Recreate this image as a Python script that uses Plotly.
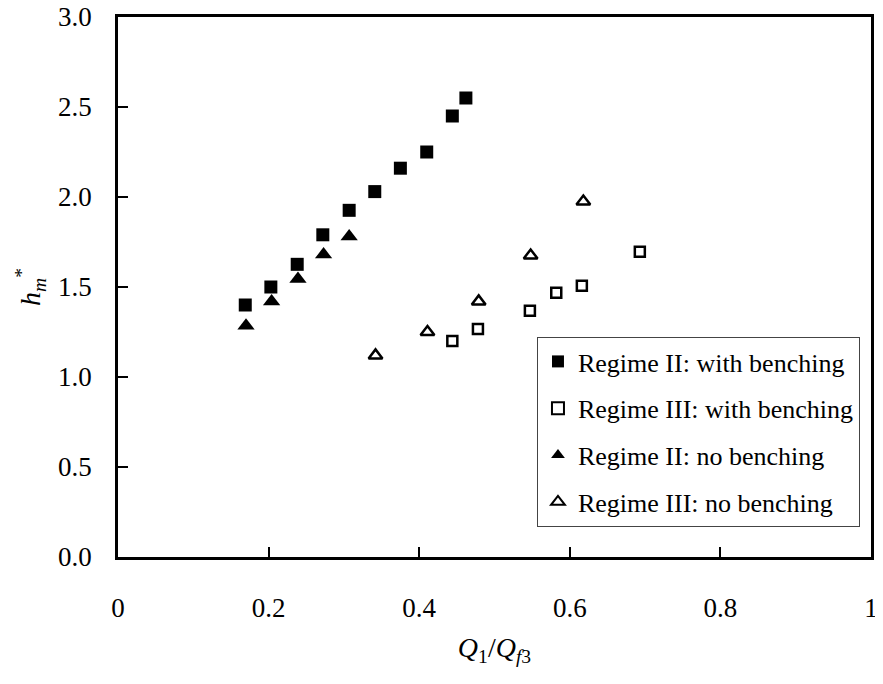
import plotly.graph_objects as go

# Data
x_ii_with = [0.169, 0.203, 0.238, 0.272, 0.307, 0.341, 0.375, 0.410, 0.444, 0.462]
y_ii_with = [1.40, 1.50, 1.626, 1.79, 1.926, 2.03, 2.16, 2.25, 2.45, 2.55]

x_iii_with = [0.444, 0.478, 0.547, 0.582, 0.616, 0.693]
y_iii_with = [1.20, 1.267, 1.368, 1.468, 1.507, 1.696]

x_ii_no = [0.170, 0.204, 0.239, 0.273, 0.307]
y_ii_no = [1.285, 1.42, 1.545, 1.68, 1.78]

x_iii_no = [0.342, 0.411, 0.479, 0.548, 0.618]
y_iii_no = [1.12, 1.25, 1.42, 1.675, 1.975]

names = ["Regime II: with benching", "Regime III: with benching",
         "Regime II: no benching", "Regime III: no benching"]

x_ticks = [0, 0.2, 0.4, 0.6, 0.8, 1]
x_tick_text = ["0", "0.2", "0.4", "0.6", "0.8", "1"]
y_ticks = [0.0, 0.5, 1.0, 1.5, 2.0, 2.5, 3.0]

FONT = "Liberation Serif, Times New Roman, serif"

fig = go.Figure()
fig.add_trace(go.Scatter(x=x_ii_with, y=y_ii_with, mode="markers", name=names[0],
                         legendgroup="a",
                         marker=dict(symbol="square", size=13, color="black",
                                     line=dict(color="black", width=0))))
fig.add_trace(go.Scatter(x=x_iii_with, y=y_iii_with, mode="markers", name=names[1],
                         legendgroup="b",
                         marker=dict(symbol="square-open", size=10, color="black",
                                     line=dict(color="black", width=2.5))))
fig.add_trace(go.Scatter(x=x_ii_no, y=y_ii_no, mode="markers", name=names[2],
                         legendgroup="c",
                         marker=dict(symbol="triangle-up", size=15, color="black",
                                     line=dict(color="black", width=0))))
fig.add_trace(go.Scatter(x=x_iii_no, y=y_iii_no, mode="markers", name=names[3],
                         legendgroup="d",
                         marker=dict(symbol="triangle-up-open", size=12, color="black",
                                     line=dict(color="black", width=2.5))))

# page body adds an 8px margin, so the figure is slightly smaller and shifted
fig.update_layout(
    width=875, height=668, autosize=False,
    margin=dict(l=110, r=12, t=9, b=119),
    paper_bgcolor="white", plot_bgcolor="white",
    font=dict(family=FONT, size=27, color="black"),
    showlegend=True,
    legend=dict(x=0.5564, y=0.4074, xanchor="left", yanchor="top",
                bordercolor="#444444", borderwidth=1, bgcolor="white",
                font=dict(family=FONT, size=26, color="black"),
                tracegroupgap=10, itemsizing="constant",
                traceorder="grouped"),
    xaxis=dict(range=[0, 1], tickvals=x_ticks, ticktext=x_tick_text,
               automargin=False, ticklabeloverflow="allow",
               showgrid=False, zeroline=False,
               showline=True, linecolor="black", linewidth=2.5, mirror=True,
               ticks="inside", ticklen=10, tickwidth=2, tickcolor="black",
               ticklabelstandoff=25,
               title=dict(text="<i>Q</i><sub>1</sub>/<i>Q</i><sub><i>f</i>3</sub>",
                          font=dict(family=FONT, size=28), standoff=16)),
    yaxis=dict(range=[0, 3], tickvals=y_ticks, tickformat=".1f",
               automargin=False, ticklabeloverflow="allow",
               showgrid=False, zeroline=False,
               showline=True, linecolor="black", linewidth=2.5, mirror=True,
               ticks="inside", ticklen=10, tickwidth=2, tickcolor="black",
               ticklabelstandoff=18,
               title=dict(text="<i>h</i><sub><i>m</i></sub><sup>*</sup>",
                          font=dict(family=FONT, size=28), standoff=10)),
)

fig.write_html("out.html")
